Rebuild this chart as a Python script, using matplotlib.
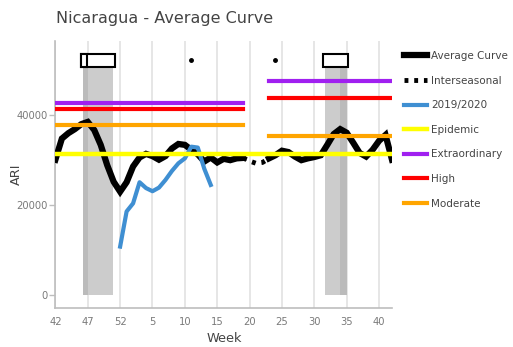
import numpy as np
import matplotlib
matplotlib.use('Agg')
from matplotlib import pyplot as plt
from matplotlib.patches import Rectangle

# epidemiological weeks 42 .. 52, 1 .. 42 of the following year
weeks = list(range(42, 53)) + list(range(1, 43))
x = np.arange(len(weeks))
tick_pos = x[::5]
tick_labels = [str(weeks[i]) for i in tick_pos]

# average curve, season part and post-season part
avg_season = [30000, 34700, 35900, 36800, 37900, 38400, 36600, 33300, 28800, 25100,
              22900, 25000, 28500, 30500, 31300, 30800, 30000, 30800, 32500, 33500,
              33300, 32200, 31200, 29600, 30500, 29400, 30200, 29900, 30300, 30400]
avg_post = [30300, 31000, 32000, 31700, 30700, 29900, 30300, 30600, 31000, 33300,
            35700, 36800, 36000, 33800, 31500, 30700, 32200, 34200, 35500, 30000]
# interseasonal gap
inter = [30400, 29700, 29200, 29400, 30300]
inter_marks_x = [21, 34]
inter_marks_y = [52200, 52200]

# current season 2019/2020 (weeks 52 .. 14)
cur = [10700, 18500, 20300, 25000, 23700, 23000, 23800, 25500, 27500, 29200,
       30300, 32900, 32700, 28000, 24400]
cur_start = 10

# thresholds: season (weeks 42-19) and post-season (weeks 23-42)
epidemic = 31300
extra = [42600, 47500]
high = [41200, 43800]
moderate = [37800, 35300]
season_span = (0, 29)
post_span = (33, 52)

# peak windows
peak_spans = [(4.2, 8.95), (41.7, 45.1)]
peak_core = [(4.2, 5.0), (44.0, 45.1)]
peak_top = 50400
box_spans = [(4.0, 9.2), (4.0, 4.9), (41.4, 45.2)]
box_y = (50500, 53600)

fig = plt.figure(figsize=(5.13, 3.47), dpi=100)
ax = fig.add_axes([0.108, 0.1115, 0.657, 0.7703])

for a, b in peak_spans:
    ax.add_patch(Rectangle((a, 0), b - a, peak_top, color='#cccccc', lw=0, zorder=1))
for a, b in peak_core:
    ax.add_patch(Rectangle((a, 0), b - a, peak_top, color='#bbbbbb', lw=0, zorder=1))
for a, b in box_spans:
    ax.add_patch(Rectangle((a, box_y[0]), b - a, box_y[1] - box_y[0],
                           facecolor='white', edgecolor='black', lw=1.5, zorder=2))

xs = x[season_span[0]:season_span[1] + 1]
xp = x[post_span[0]:post_span[1] + 1]
xi = x[season_span[1]:post_span[0] + 1]

ax.plot(xs, avg_season, color='black', lw=4.5, solid_joinstyle='miter', zorder=3,
        label='Average Curve')
ax.plot(xp, avg_post, color='black', lw=4.5, solid_joinstyle='miter', zorder=3)
ax.plot(xi, inter, color='black', lw=3.5, ls=(0, (0.8, 1.2)), zorder=3,
        label='Interseasonal')
ax.plot(inter_marks_x, inter_marks_y, 'o', color='black', ms=2.5, zorder=3)
ax.plot(x[cur_start:cur_start + len(cur)], cur, color='#3f8fd2', lw=3, zorder=4,
        label='2019/2020')
ax.plot([x[0], x[-1]], [epidemic, epidemic], color='#ffff00', lw=3.2, zorder=5,
        label='Epidemic')
for i, span in enumerate([season_span, post_span]):
    ax.plot(span, [extra[i]] * 2, color='#a020f0', lw=3, zorder=5,
            label='Extraordinary' if i == 0 else None)
    ax.plot(span, [high[i]] * 2, color='#ff0000', lw=3, zorder=5,
            label='High' if i == 0 else None)
    ax.plot(span, [moderate[i]] * 2, color='#ffa500', lw=3, zorder=5,
            label='Moderate' if i == 0 else None)

ax.set_xlim(0, 52.07)
ax.set_ylim(-3020, 56380)
ax.set_xticks(tick_pos)
ax.set_xticklabels(tick_labels)
ax.set_yticks([0, 20000, 40000])
ax.grid(axis='x', color='#e2e2e2', lw=1.2, zorder=0)
ax.set_axisbelow(True)
for s in ['top', 'right']:
    ax.spines[s].set_visible(False)
for s in ['left', 'bottom']:
    ax.spines[s].set_color('#bdbdbd')
    ax.spines[s].set_linewidth(1.2)
ax.tick_params(axis='x', length=0, pad=6, labelsize=7.2, labelcolor='#7a7a7a')
ax.tick_params(axis='y', length=4, width=1, color='#bdbdbd', pad=1.5,
               labelsize=7.2, labelcolor='#7a7a7a')
ax.set_xlabel('Week', fontsize=9.3, color='#444444')
ax.set_ylabel('ARI', fontsize=9.3, color='#444444')
ax.xaxis.set_label_coords(0.5, -0.089)
ax.yaxis.set_label_coords(-0.095, 0.5)
fig.text(0.109, 0.948, 'Nicaragua - Average Curve', fontsize=11.5, color='#444444',
         va='center', ha='left')

leg = fig.legend(loc='upper left', bbox_to_anchor=(0.7875, 0.853), frameon=False,
                 fontsize=7.5, handlelength=2.2, handletextpad=0.4, labelspacing=1.4,
                 borderaxespad=0, borderpad=0)
for t in leg.get_texts():
    t.set_color('#444444')

fig.savefig('out.png', dpi=100)
